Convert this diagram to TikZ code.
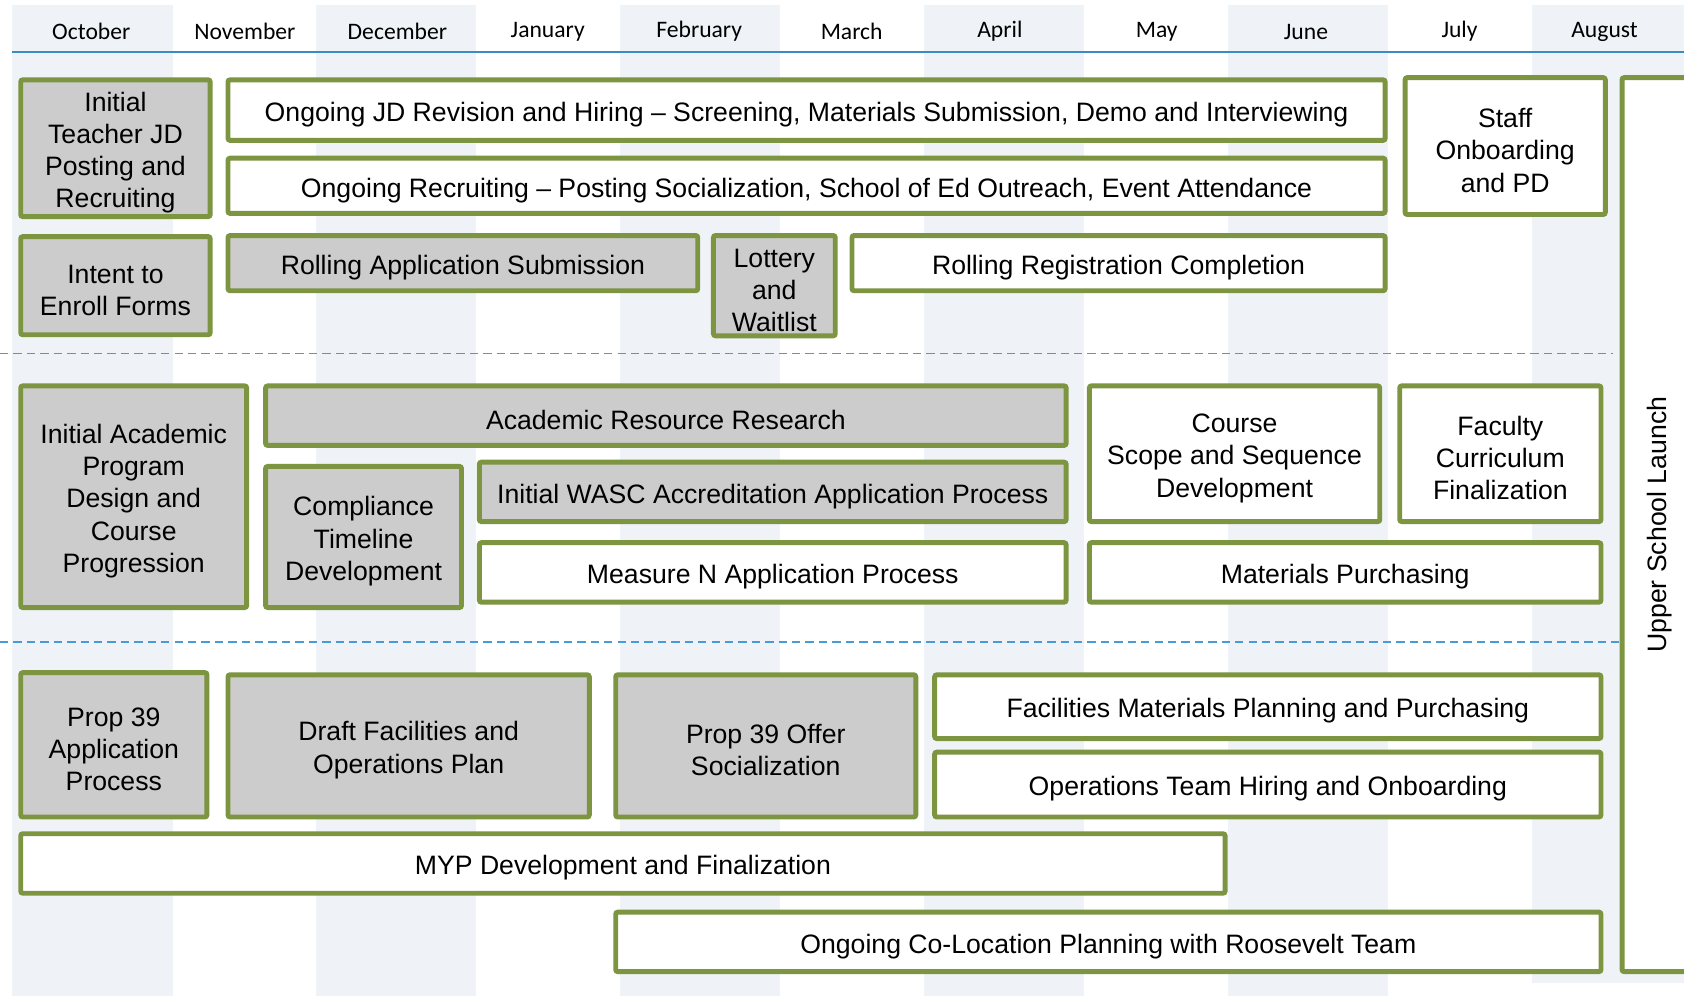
\documentclass[tikz,border=0pt]{standalone}
\usepackage{fontspec}
\setmainfont{Liberation Sans}
\newfontfamily\monthfont{Carlito}
\definecolor{stripe}{RGB}{239,243,248}
\definecolor{olive}{RGB}{125,148,65}
\definecolor{hdrblue}{RGB}{58,140,196}
\definecolor{dashblue}{RGB}{72,155,215}
\definecolor{boxgray}{RGB}{204,204,204}
\begin{document}
\begin{tikzpicture}[x=1pt,y=-1pt,
  box/.style={draw=olive, line width=4.6pt, rounded corners=2pt, align=center, inner sep=0pt,
    text height=26pt, font=\fontsize{24.8}{30}\selectfont},
  gbox/.style={box, fill=boxgray},
  wbox/.style={box, fill=white},
  ltwo/.style={text height=56pt},
  lthree/.style={text height=86pt},
  lfour/.style={text height=116pt},
  lfive/.style={text height=146pt},
  month/.style={font=\monthfont\fontsize{22}{26}\selectfont, inner sep=0pt},
  divider/.style={draw=dashblue, line width=1.5pt, dash pattern=on 7.8pt off 4.7pt},
]
\clip (0,0) rectangle (1568,927);
\fill[white] (0,0) rectangle (1568,927);
% column stripes
\foreach \a/\b in {11/161,294/443,577/726,860/1009,1143/1292}
  \fill[stripe] (\a,5) rectangle (\b,927);
\fill[stripe] (1426,5) rectangle (1568,915);
% months
\foreach \m/\x in {October/85,November/228,December/370,January/510,February/651,March/793,April/931,May/1077,June/1216,July/1359,August/1494}
  \node[month] (m\m) at (\x,29.5) {\m};
\draw[hdrblue, line width=2pt] (11,48.5) -- (1568,48.5);
% dividers
\draw[divider] (0,329) -- (1502,329);
\draw[divider] (0,598) -- (1507,598);
% row 1
\node[gbox, lfour, minimum width=176.4pt, minimum height=127.4pt] (tjd) at (107.5,138) {Initial\\Teacher JD\\Posting and\\Recruiting};
\node[wbox, minimum width=1077.4pt, minimum height=56.4pt] (jdrev) at (751,102.5) {Ongoing JD Revision and Hiring – Screening, Materials Submission, Demo and Interviewing};
\node[wbox, minimum width=1077.4pt, minimum height=51.4pt] (recr) at (751,173) {Ongoing Recruiting – Posting Socialization, School of Ed Outreach, Event Attendance};
\node[wbox, lthree, minimum width=186.4pt, minimum height=127.4pt] (staff) at (1401.5,136) {Staff\\Onboarding\\and PD};
\node[gbox, ltwo, minimum width=176.4pt, minimum height=91.4pt] (intent) at (107.5,266) {Intent to\\Enroll Forms};
\node[gbox, minimum width=437.4pt, minimum height=51.4pt] (rollapp) at (431,245) {Rolling Application Submission};
\node[gbox, lthree, minimum width=113.4pt, minimum height=93.4pt] (lottery) at (721,266) {Lottery\\and\\Waitlist};
\node[wbox, minimum width=496.4pt, minimum height=51.4pt] (rollreg) at (1041.5,245) {Rolling Registration Completion};
% row 2
\node[gbox, lfive, minimum width=210.4pt, minimum height=206.4pt] (iap) at (124.5,462.5) {Initial Academic\\Program\\Design and\\Course\\Progression};
\node[gbox, minimum width=745.4pt, minimum height=55.4pt] (arr) at (620,387) {Academic Resource Research};
\node[gbox, lthree, minimum width=182.4pt, minimum height=131.4pt] (ctd) at (338.5,500) {Compliance\\Timeline\\Development};
\node[gbox, minimum width=546.4pt, minimum height=55.4pt] (wasc) at (719.5,458) {Initial WASC Accreditation Application Process};
\node[wbox, minimum width=546.4pt, minimum height=55.4pt] (mn) at (719.5,533) {Measure N Application Process};
\node[wbox, lthree, minimum width=270.4pt, minimum height=126.4pt] (course) at (1149.5,422.5) {Course\\Scope and Sequence\\Development};
\node[wbox, lthree, minimum width=187.4pt, minimum height=126.4pt] (fac) at (1397,422.5) {Faculty\\Curriculum\\Finalization};
\node[wbox, minimum width=476.4pt, minimum height=55.4pt] (mat) at (1252.5,533) {Materials Purchasing};
% row 3
\node[gbox, lthree, minimum width=173.4pt, minimum height=134.4pt] (p39) at (106,693.5) {Prop 39\\Application\\Process};
\node[gbox, ltwo, minimum width=336.4pt, minimum height=132.4pt] (dfo) at (380.5,694.5) {Draft Facilities and\\Operations Plan};
\node[gbox, ltwo, minimum width=279.4pt, minimum height=132.4pt] (p39o) at (713,694.5) {Prop 39 Offer\\Socialization};
\node[wbox, minimum width=620.4pt, minimum height=59.4pt] (fmp) at (1180.5,658) {Facilities Materials Planning and Purchasing};
\node[wbox, minimum width=620.4pt, minimum height=60.4pt] (oth) at (1180.5,730.5) {Operations Team Hiring and Onboarding};
\node[wbox, minimum width=1121.4pt, minimum height=55.4pt] (myp) at (580,804) {MYP Development and Finalization};
\node[wbox, minimum width=917.4pt, minimum height=55.4pt] (coloc) at (1032,877) {Ongoing Co-Location Planning with Roosevelt Team};
% launch column
\node[wbox, rotate=90, minimum width=832.4pt, minimum height=61.4pt] (usl) at (1541,488.5) {Upper School Launch};
\end{tikzpicture}
\end{document}
